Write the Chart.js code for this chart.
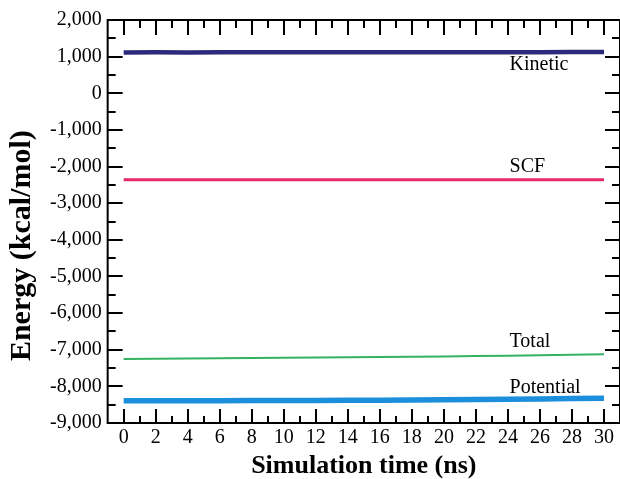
<!DOCTYPE html>
<html>
<head>
<meta charset="utf-8">
<script src="https://cdn.jsdelivr.net/npm/chart.js@4.4.1/dist/chart.umd.min.js"></script>
<style>
    html, body { margin: 0; padding: 0; background: #fff; }
    #wrap { width: 620px; height: 479px; }
</style>
</head>
<body>
<div id="wrap"><canvas id="energyChart" width="620" height="479"></canvas></div>
<script>
// values (ns, kcal/mol)
const timeNs = [0, 2, 4, 6, 8, 10, 12, 14, 16, 18, 20, 22, 24, 26, 28, 30];
const kinetic = [1115, 1118, 1116, 1118, 1117, 1119, 1118, 1120, 1119, 1121, 1120, 1122, 1121, 1123, 1124, 1125];
const scf = [-2362, -2360, -2362, -2361, -2362, -2360, -2361, -2362, -2360, -2361, -2360, -2362, -2361, -2360, -2360, -2361];
const total = [-7255, -7248, -7240, -7236, -7228, -7222, -7215, -7208, -7198, -7190, -7182, -7172, -7162, -7148, -7135, -7122];
const potential = [-8392, -8392, -8390, -8390, -8388, -8386, -8385, -8382, -8378, -8372, -8366, -8358, -8350, -8342, -8332, -8322];

const xTicks = [0, 2, 4, 6, 8, 10, 12, 14, 16, 18, 20, 22, 24, 26, 28, 30];
const yTicks = [2000, 1000, 0, -1000, -2000, -3000, -4000, -5000, -6000, -7000, -8000, -9000];

const seriesNames = ["Kinetic", "SCF", "Total", "Potential"];

// where the in-plot names sit (data coordinates)
const namePlacement = [
    { x: 24.1, y: 790 },
    { x: 24.1, y: -2000 },
    { x: 24.1, y: -6770 },
    { x: 24.1, y: -8030 },
];

const serif = "'Liberation Serif', 'Times New Roman', serif";

function pairs(values) {
    return timeNs.map((t, i) => ({ x: t, y: values[i] }));
}

// frame, inward ticks, series names and the y title
const frameAndTicks = {
    id: "frameAndTicks",
    afterDatasetsDraw(chart) {
        const ctx = chart.ctx;
        const area = chart.chartArea;
        const xs = chart.scales.x;
        const ys = chart.scales.y;
        ctx.save();
        ctx.strokeStyle = "#000";
        ctx.lineWidth = 2;
        ctx.beginPath();
        for (let v = 0; v <= 30; v += 1) {
            const px = Math.round(xs.getPixelForValue(v));
            const major = v % 2 === 0;
            ctx.moveTo(px, area.bottom);
            ctx.lineTo(px, area.bottom - (major ? 14 : 7));
            ctx.moveTo(px, area.top);
            ctx.lineTo(px, area.top + (major ? 15 : 8));
        }
        for (let v = -9000; v <= 2000; v += 500) {
            const py = Math.round(ys.getPixelForValue(v));
            const major = v % 1000 === 0;
            ctx.moveTo(area.left, py);
            ctx.lineTo(area.left + (major ? 15 : 8), py);
            ctx.moveTo(area.right, py);
            ctx.lineTo(area.right - (major ? 15 : 8), py);
        }
        ctx.stroke();
        ctx.strokeRect(area.left, area.top, area.right - area.left, area.bottom - area.top);

        ctx.fillStyle = "#000";
        ctx.font = "20px " + serif;
        ctx.textAlign = "left";
        ctx.textBaseline = "middle";
        seriesNames.forEach((name, i) => {
            const p = namePlacement[i];
            ctx.fillText(name, xs.getPixelForValue(p.x), ys.getPixelForValue(p.y));
        });

        // y title sits a bit below the axis middle in the original
        ctx.translate(22, area.top + (area.bottom - area.top) * 0.56);
        ctx.rotate(-Math.PI / 2);
        ctx.font = "bold 30px " + serif;
        ctx.textAlign = "center";
        ctx.fillText("Energy (kcal/mol)", 0, 0);
        ctx.restore();
    }
};

const context = document.getElementById("energyChart");

const energyChart = new Chart(context, {
    type: "line",
    data: {
        datasets: [
            { label: seriesNames[0], data: pairs(kinetic), borderColor: "#2b2a7c", borderWidth: 4.5 },
            { label: seriesNames[1], data: pairs(scf), borderColor: "#e6286c", borderWidth: 3 },
            { label: seriesNames[2], data: pairs(total), borderColor: "#34b261", borderWidth: 2 },
            { label: seriesNames[3], data: pairs(potential), borderColor: "#1c8fdc", borderWidth: 5.5 },
        ],
    },
    options: {
        responsive: false,
        animation: false,
        layout: { padding: { top: 20, right: 0, bottom: 0, left: 44 } },
        elements: { point: { radius: 0 }, line: { tension: 0 } },
        plugins: {
            legend: { display: false },
            tooltip: { enabled: false },
        },
        scales: {
            x: {
                type: "linear",
                min: -1,
                max: 31,
                afterBuildTicks: (scale) => { scale.ticks = xTicks.map(v => ({ value: v })); },
                grid: { display: false, drawTicks: false },
                border: { display: false },
                ticks: {
                    color: "#000",
                    font: { family: serif, size: 20, lineHeight: 1 },
                    padding: 5,
                    maxRotation: 0,
                    autoSkip: false,
                },
                title: {
                    display: true,
                    text: "Simulation time (ns)",
                    color: "#000",
                    font: { family: serif, size: 26, weight: "bold", lineHeight: 1 },
                    padding: { top: 0, bottom: 0 },
                },
            },
            y: {
                min: -9000,
                max: 2000,
                afterBuildTicks: (scale) => { scale.ticks = yTicks.map(v => ({ value: v })); },
                grid: { display: false, drawTicks: false },
                border: { display: false },
                ticks: {
                    color: "#000",
                    font: { family: serif, size: 20 },
                    padding: 6,
                    autoSkip: false,
                    callback: (v) => Number(v).toLocaleString("en-US"),
                },
            },
        },
    },
    plugins: [frameAndTicks],
});
</script>
</body>
</html>
